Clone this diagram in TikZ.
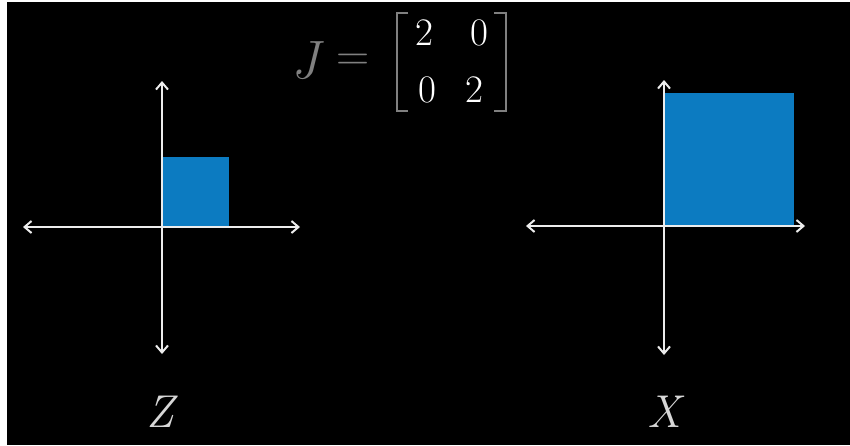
\documentclass[tikz,border=0pt]{standalone}
\usetikzlibrary{arrows.meta}
\definecolor{sqblue}{RGB}{12,123,193}
\definecolor{axiscol}{RGB}{236,236,236}
\definecolor{jgray}{RGB}{128,128,128}
\definecolor{labgray}{RGB}{215,215,215}
\tikzset{
  axisline/.style={draw=axiscol, line width=2pt, {Straight Barb[length=7pt,width=12pt]}-{Straight Barb[length=7pt,width=12pt]}},
  bluesq/.style={fill=sqblue, draw=none},
  entry/.style={text=white, inner sep=0pt, anchor=base, font=\fontsize{39}{39}\selectfont},
  brack/.style={draw=jgray, line width=2.6pt},
  axlabel/.style={text=labgray, inner sep=0pt, anchor=base, font=\fontsize{46}{46}\selectfont\itshape}
}
\begin{document}
\begin{tikzpicture}[x=1pt,y=-1pt]
\useasboundingbox (0,0) rectangle (850,445);
\fill[white] (0,0) rectangle (850,445);
\fill[black] (7,2) rectangle (850,445);

% left plot
\fill[bluesq] (162,157) rectangle (229,227);
\coordinate (lxl) at (23,227);
\coordinate (lxr) at (300,227);
\coordinate (lyt) at (162,81);
\coordinate (lyb) at (162,354);
\draw[axisline] (lxl) -- (lxr);
\draw[axisline] (lyt) -- (lyb);

% right plot
\fill[bluesq] (664,93) rectangle (794,226);
\coordinate (rxl) at (526,226);
\coordinate (rxr) at (805,226);
\coordinate (ryt) at (664,80);
\coordinate (ryb) at (664,355);
\draw[axisline] (rxl) -- (rxr);
\draw[axisline] (ryt) -- (ryb);

% matrix
\node[text=jgray, inner sep=0pt, anchor=base, font=\fontsize{54}{54}\selectfont\itshape] (J) at (305,78) {J};
\node[text=jgray, inner sep=0pt, font=\fontsize{46}{46}\selectfont] (eq) at (353,62) {=};
\coordinate (lb1) at (408,13);
\coordinate (lb2) at (397,13);
\coordinate (lb3) at (397,111);
\coordinate (lb4) at (408,111);
\coordinate (rb1) at (494,13);
\coordinate (rb2) at (506,13);
\coordinate (rb3) at (506,111);
\coordinate (rb4) at (494,111);
\draw[brack] (lb1) -- (lb2) -- (lb3) -- (lb4);
\draw[brack] (rb1) -- (rb2) -- (rb3) -- (rb4);
\node[entry] (a11) at (424,45) {2};
\node[entry] (a12) at (479,45) {0};
\node[entry] (a21) at (427,102) {0};
\node[entry] (a22) at (474,102) {2};

% labels
\node[axlabel] (Z) at (160,427) {Z};
\node[axlabel] (X) at (664,427) {X};
\end{tikzpicture}
\end{document}
